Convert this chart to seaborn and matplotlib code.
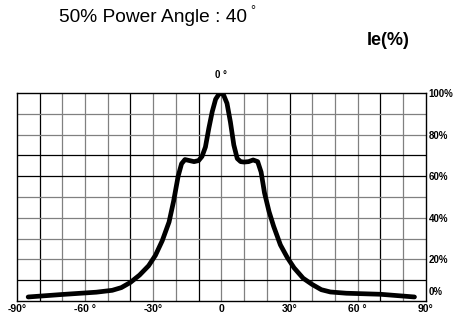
import numpy as np
import pandas as pd
import matplotlib
matplotlib.use("Agg")
import matplotlib.pyplot as plt
import matplotlib.transforms as mtransforms
import seaborn as sns

# radiation pattern (angle in degrees, relative intensity in %)
angles = [-85, -70, -55, -48, -44, -40, -36, -32, -29, -26, -23, -21, -19, -17.5, -16,
          -14, -12, -10, -8.5, -7, -5.5, -4, -2.5, -1, 0, 1, 2.5, 4, 5.5, 7, 8.5, 10,
          12, 14, 16, 17.5, 19, 21, 23, 26, 29, 32, 36, 40, 44, 48, 55, 70, 85]
intensity = [2, 3.2, 4.3, 5.2, 6.5, 9, 12.5, 17, 22, 29, 38, 48, 60, 66, 68,
             67.5, 67, 67.5, 69.5, 74, 83, 91, 97, 99.5, 100, 99, 95, 86, 75, 68.5, 67, 66.8,
             67, 67.8, 67, 62, 52, 43, 36, 27, 21, 16, 11, 8, 5.5, 4.4, 3.8, 3.3, 2]

x_ticks = [-90, -60, -30, 0, 30, 60, 90]
x_labels = ["-90°", "-60 °", "-30°", "0", "30°", "60 °", "90°"]
y_ticks = [0, 20, 40, 60, 80, 100]
y_labels = ["0%", "20%", "40%", "60%", "80%", "100%"]

df = pd.DataFrame({"angle": angles, "ie": intensity})

sns.set_style("white")
plt.rcParams["font.family"] = ["Liberation Sans", "DejaVu Sans"]
plt.rcParams["text.color"] = "black"
plt.rcParams["xtick.color"] = "black"
plt.rcParams["ytick.color"] = "black"

fig = plt.figure(figsize=(4.54, 3.15), dpi=100)
ax = fig.add_axes([0.037, 0.044, 0.901, 0.661])

# grid: 10 degree / 10 percent, some lines render darker in the original
dark_v = [-80, -40, -10, 30, 70]
dark_h = [10, 60, 70]
for v in range(-80, 90, 10):
    ax.axvline(v, color="black" if v in dark_v else "#808080", lw=0.9, zorder=1)
for h in range(10, 100, 10):
    ax.axhline(h, color="black" if h in dark_h else "#808080", lw=0.9, zorder=1)

sns.lineplot(data=df, x="angle", y="ie", ax=ax, color="black", lw=3.4, zorder=3)

ax.set_xlim(-90, 90)
ax.set_ylim(0, 100)
ax.set_xticks(x_ticks)
ax.set_xticklabels(x_labels, fontsize=7.5, fontweight="bold")
ax.yaxis.tick_right()
ax.set_yticks(y_ticks)
ax.set_yticklabels(y_labels, fontsize=7, fontweight="bold")
ax.tick_params(length=0, pad=2)
ax.set_xlabel("")
ax.set_ylabel("")
for s in ax.spines.values():
    s.set_color("black")
    s.set_linewidth(1.0)

# the 0% label sits a little above the bottom line in the original
lab0 = ax.get_yticklabels()[0]
lab0.set_transform(lab0.get_transform() +
                   mtransforms.ScaledTranslation(0, 7 / 72, fig.dpi_scale_trans))

title = fig.text(0.13, 0.945, "50% Power Angle : 40", fontsize=13.8, va="center", ha="left")
ax.annotate("°", xy=(1, 1), xycoords=title, xytext=(2, 3), textcoords="offset points",
            fontsize=9, ha="left", va="top")
fig.text(0.903, 0.87, "Ie(%)", fontsize=13, fontweight="bold", va="center", ha="right")
ax.text(0, 106, "0 °", fontsize=7, fontweight="bold", ha="center", va="bottom")

fig.savefig("out.png", dpi=100)
